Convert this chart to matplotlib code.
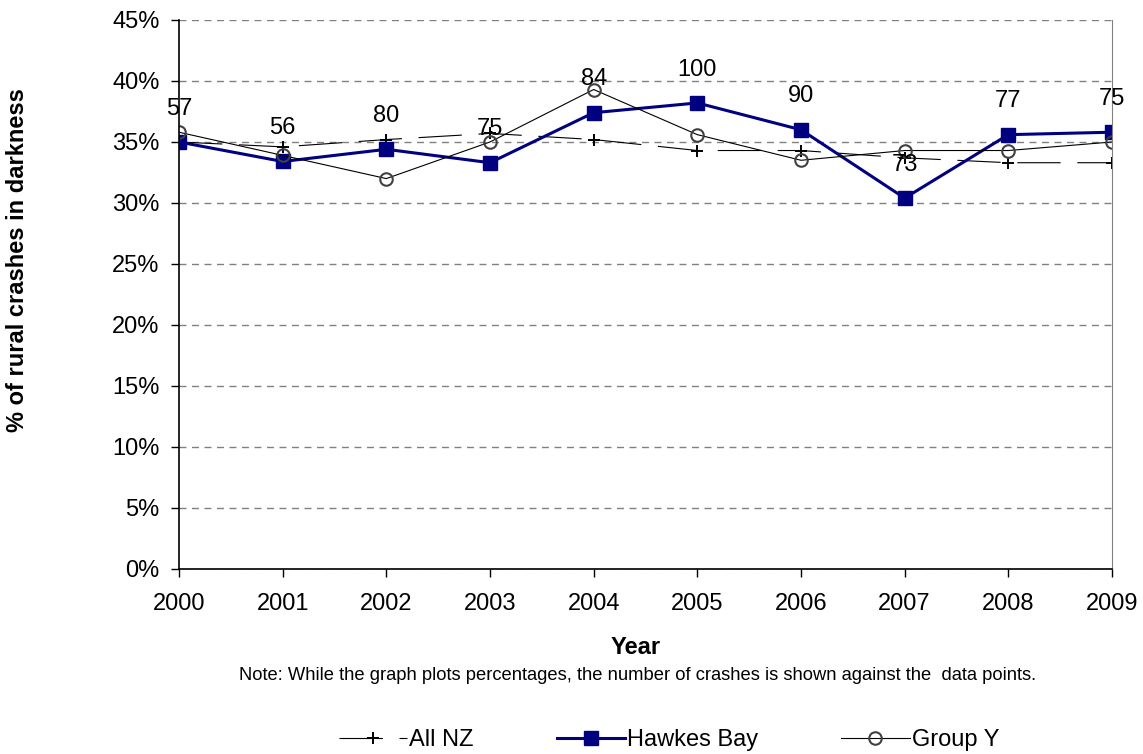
import matplotlib
matplotlib.use("Agg")
import matplotlib.pyplot as plt
from matplotlib.ticker import FuncFormatter

plt.rcParams['font.family'] = ['Liberation Sans', 'DejaVu Sans']

years = [2000, 2001, 2002, 2003, 2004, 2005, 2006, 2007, 2008, 2009]
all_nz = [35.0, 34.6, 35.2, 35.7, 35.2, 34.3, 34.3, 33.7, 33.3, 33.3]
hawkes_bay = [35.0, 33.4, 34.4, 33.3, 37.4, 38.2, 36.0, 30.4, 35.6, 35.8]
group_y = [35.8, 33.9, 32.0, 35.0, 39.3, 35.6, 33.5, 34.3, 34.3, 35.0]
crash_counts = [57, 56, 80, 75, 84, 100, 90, 73, 77, 75]

fig = plt.figure(figsize=(11.43, 7.54), dpi=100)
ax = fig.add_axes([0.1566, 0.2454, 0.8163, 0.7281])

ax.plot(years, all_nz, color='black', lw=0.8, linestyle=(0, (39, 15)),
        marker='+', markersize=9, markeredgewidth=1.4, label='All NZ')
ax.plot(years, hawkes_bay, color='#000080', lw=2.2, marker='s',
        markersize=10, label='Hawkes Bay')
ax.plot(years, group_y, color='black', lw=0.8, marker='o', markersize=9,
        markerfacecolor='none', markeredgecolor='#404040', markeredgewidth=1.5,
        label='Group Y')

for x, y, n in zip(years, hawkes_bay, crash_counts):
    ax.annotate(str(n), (x, y), xytext=(0, 24), textcoords='offset points',
                ha='center', va='center', fontsize=17)

ax.set_xlim(2000, 2009)
ax.set_ylim(0, 45)
ax.set_xticks(years)
ax.set_yticks(range(0, 46, 5))
ax.yaxis.set_major_formatter(FuncFormatter(lambda v, p: '%d%%' % v))
ax.tick_params(axis='both', labelsize=17, length=6, direction='out', width=1)
ax.tick_params(axis='x', pad=11)
ax.tick_params(axis='y', pad=8)
ax.grid(axis='y', color='#808080', linestyle=(0, (5, 4)), lw=1)
ax.set_axisbelow(True)
ax.spines['top'].set_visible(False)
ax.spines['right'].set_color('#808080')
ax.spines['left'].set_linewidth(1.2)
ax.spines['bottom'].set_linewidth(1.2)

fig.text(636 / 1143, 1 - 648 / 754, 'Year', ha='center', va='center',
         fontsize=17, fontweight='bold')
fig.text(18 / 1143, 1 - 260 / 754, '% of rural crashes in darkness', ha='center', va='center',
         rotation=90, fontsize=17, fontweight='bold')

fig.text(638 / 1143, 1 - 676 / 754, 'Note: While the graph plots percentages, the number of crashes is shown against the  data points.',
         ha='center', va='center', fontsize=13.2)

fig.legend(loc='center', bbox_to_anchor=(669 / 1143, 1 - 740 / 754), ncol=3, frameon=False,
           fontsize=17, handlelength=2.9, columnspacing=3.5, handletextpad=0.1)

fig.savefig('out.png', dpi=100)
